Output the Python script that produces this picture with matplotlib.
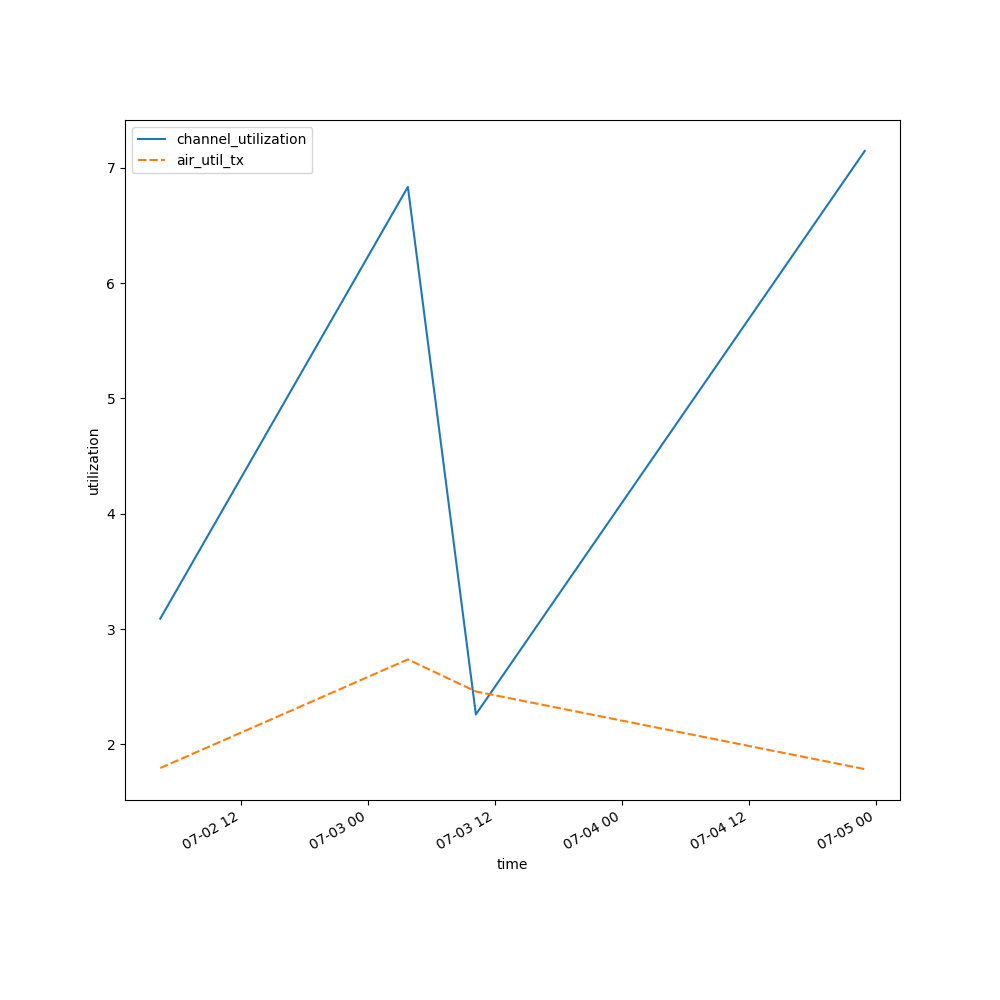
import pandas as pd
import matplotlib
matplotlib.use("Agg")
import matplotlib.pyplot as plt
import matplotlib.dates as mdates

times = pd.to_datetime([
    "2024-07-02 04:19",
    "2024-07-03 03:45",
    "2024-07-03 10:11",
    "2024-07-04 22:59",
])
channel_utilization = [3.09, 6.835, 2.26, 7.147]
air_util_tx = [1.795, 2.737, 2.459, 1.786]

fig, ax = plt.subplots(figsize=(10, 10), dpi=100)
ax.plot(times, channel_utilization, color="#1f77b4", lw=1.5, label="channel_utilization")
ax.plot(times, air_util_tx, color="#ff7f0e", lw=1.5, dashes=(4, 1.5), label="air_util_tx")

ax.xaxis.set_major_formatter(mdates.DateFormatter("%m-%d %H"))
ax.set_xlabel("time")
ax.set_ylabel("utilization")
ax.legend(loc="upper left")
fig.autofmt_xdate()

fig.savefig("out.png")
